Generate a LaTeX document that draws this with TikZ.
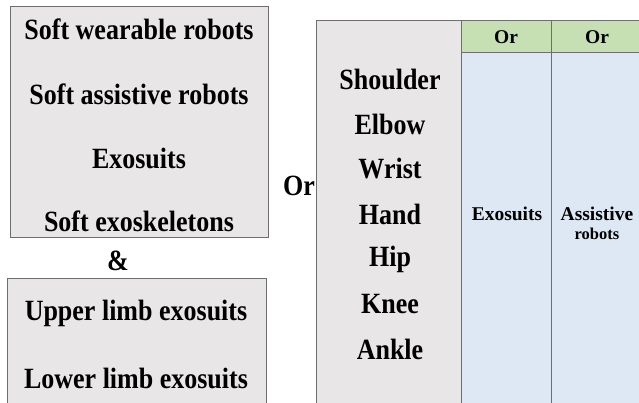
\documentclass[tikz,border=0pt]{standalone}
\usepackage{fontspec}
\setmainfont{Liberation Serif}
\usepackage{xcolor}
\usepackage{graphicx}
\usetikzlibrary{positioning}

\definecolor{cellgray}{HTML}{E8E6E6}
\definecolor{cellblue}{HTML}{DDE8F4}
\definecolor{cellgreen}{HTML}{C6E0B4}
\definecolor{edgegray}{HTML}{6E6E6E}

\newcommand{\tall}[1]{\scalebox{1}[1.13]{#1}}

\begin{document}
\begin{tikzpicture}[
  x=1pt, y=-1pt,
  cell/.style={draw=edgegray, line width=0.8pt, inner sep=0pt, anchor=north west},
  graycell/.style={cell, fill=cellgray},
  bluecell/.style={cell, fill=cellblue},
  greencell/.style={cell, fill=cellgreen},
  big/.style={font=\fontsize{26}{30}\selectfont\bfseries, inner sep=0pt},
  small/.style={font=\fontsize{19.5}{21}\selectfont\bfseries, align=center, inner sep=0pt},
  head/.style={font=\fontsize{19.5}{22}\selectfont\bfseries, inner sep=0pt}
]
\useasboundingbox (0,0) rectangle (639,402);
\clip (0,0) rectangle (639,402);

% left boxes
\node[graycell, minimum width=258pt, minimum height=231pt] (terms) at (10,6) {};
\node[graycell, minimum width=259pt, minimum height=140pt] (limbs) at (7,278) {};

\node[big] (wear) at (139,29) {\tall{Soft wearable robots}};
\node[big] (assist) at (139,94) {\tall{Soft assistive robots}};
\node[big] (exo) at (139,158) {\tall{Exosuits}};
\node[big] (skel) at (139,221) {\tall{Soft exoskeletons}};
\node[big] (amp) at (118,261) {\tall{\&}};
\node[big] (upper) at (136,313) {\tall{Upper limb exosuits}};
\node[big] (lower) at (136,378) {\tall{Lower limb exosuits}};

% table
\node[graycell, minimum width=145pt, minimum height=400pt] (joints) at (316,20) {};
\node[greencell, minimum width=90pt, minimum height=32pt] (headA) at (461,20) {};
\node[greencell, minimum width=100pt, minimum height=32pt] (headB) at (551,20) {};
\node[bluecell, minimum width=90pt, minimum height=368pt] (colA) at (461,52) {};
\node[bluecell, minimum width=100pt, minimum height=368pt] (colB) at (551,52) {};

\node[big] (or) at (299,186) {\tall{Or}};

\node[head] (orA) at (506,37) {Or};
\node[head] (orB) at (597,37) {Or};

\foreach \j [count=\i] in {Shoulder,Elbow,Wrist,Hand,Hip,Knee,Ankle}
  \node[big] (joint\i) at (390,34+45*\i) {\tall{\j}};

\node[small] (exosuit) at (507,214) {Exosuits};
\node[small] (robots) at (597,223) {Assistive\\[-2pt]{\fontsize{16.5}{20}\selectfont robots}};
\end{tikzpicture}
\end{document}
